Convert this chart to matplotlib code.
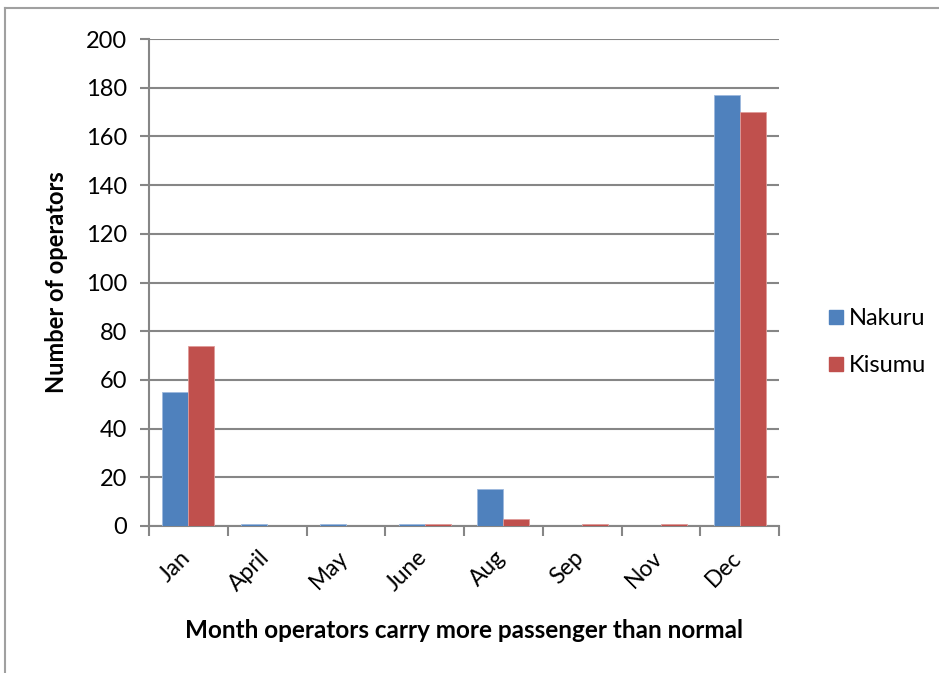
import matplotlib
matplotlib.use("Agg")
import matplotlib.pyplot as plt
import matplotlib.transforms as mtransforms
from matplotlib.lines import Line2D
import numpy as np

# --- data ---
months = ["Jan", "April", "May", "June", "Aug", "Sep", "Nov", "Dec"]
nakuru = [55, 1, 1, 1, 15, 0, 0, 177]
kisumu = [74, 0, 0, 1, 3, 1, 1, 170]
series_names = ["Nakuru", "Kisumu"]

plt.rcParams['font.family'] = ['Lato', 'DejaVu Sans']

W, H = 939, 673
fig = plt.figure(figsize=(W / 100, H / 100), dpi=100)
ax = fig.add_axes([149 / W, 1 - 526 / H, (779 - 149) / W, (526 - 39) / H])

x = np.arange(len(months))
bw = 0.33
ax.bar(x - bw / 2, nakuru, bw, color='#4F81BD', edgecolor='#9DB9DE', linewidth=0.6,
       label=series_names[0], zorder=3)
ax.bar(x + bw / 2, kisumu, bw, color='#C0504D', edgecolor='#E09A98', linewidth=0.6,
       label=series_names[1], zorder=3)

grid_c = '#868686'
ax.set_ylim(0, 200)
ax.set_xlim(-0.5, len(months) - 0.5)
ax.set_yticks(range(0, 201, 20))
ax.yaxis.grid(True, color=grid_c, linewidth=1.5, zorder=0)
ax.set_axisbelow(True)

for s in ['top', 'right']:
    ax.spines[s].set_visible(False)
for s in ['left', 'bottom']:
    ax.spines[s].set_color(grid_c)
    ax.spines[s].set_linewidth(1.5)

ax.tick_params(axis='y', direction='out', length=6.5, color=grid_c, width=1.5,
               labelsize=17, pad=9)
# x ticks at category boundaries, labels at centres
ax.set_xticks(np.arange(len(months) + 1) - 0.5)
ax.set_xticklabels([])
ax.set_xticks(x, minor=True)
ax.set_xticklabels(months, minor=True, rotation=45, ha='right', va='top',
                   fontsize=16.5)
ax.tick_params(axis='x', which='major', direction='out', length=7, color=grid_c, width=1.5)
ax.tick_params(axis='x', which='minor', length=0, pad=15)
shift = mtransforms.ScaledTranslation(6 / 100, 0, fig.dpi_scale_trans)
for lbl in ax.get_xticklabels(minor=True):
    lbl.set_transform(lbl.get_transform() + shift)

ax.set_ylabel("Number of operators", fontsize=17, fontweight='bold')
ax.yaxis.set_label_coords((57 - 149) / (779 - 149), 0.5)
ax.set_xlabel("Month operators carry more passenger than normal", fontsize=17.5,
              fontweight='bold')
ax.xaxis.set_label_coords(0.5, -(630 - 526) / (526 - 39))
ax.xaxis.label.set_va('center')
ax.yaxis.label.set_va('center')

handles = [Line2D([0], [0], marker='s', color='w', markerfacecolor=c, markeredgecolor=c,
                  markersize=10.5, label=n)
           for c, n in zip(['#4F81BD', '#C0504D'], series_names)]
fig.legend(handles=handles, loc='center left', bbox_to_anchor=(803 / W, 1 - 342 / H),
           frameon=False, fontsize=17, handletextpad=0.05, labelspacing=1.1,
           handlelength=1.0)

# outer chart border (left and top visible)
fig.add_artist(Line2D([5 / W, 5 / W], [0, 1 - 8 / H], color='#A0A0A0', linewidth=1.5,
                      transform=fig.transFigure))
fig.add_artist(Line2D([5 / W, 1], [1 - 8 / H, 1 - 8 / H], color='#A0A0A0', linewidth=1.5,
                      transform=fig.transFigure))

fig.savefig("out.png", dpi=100, facecolor='white')
